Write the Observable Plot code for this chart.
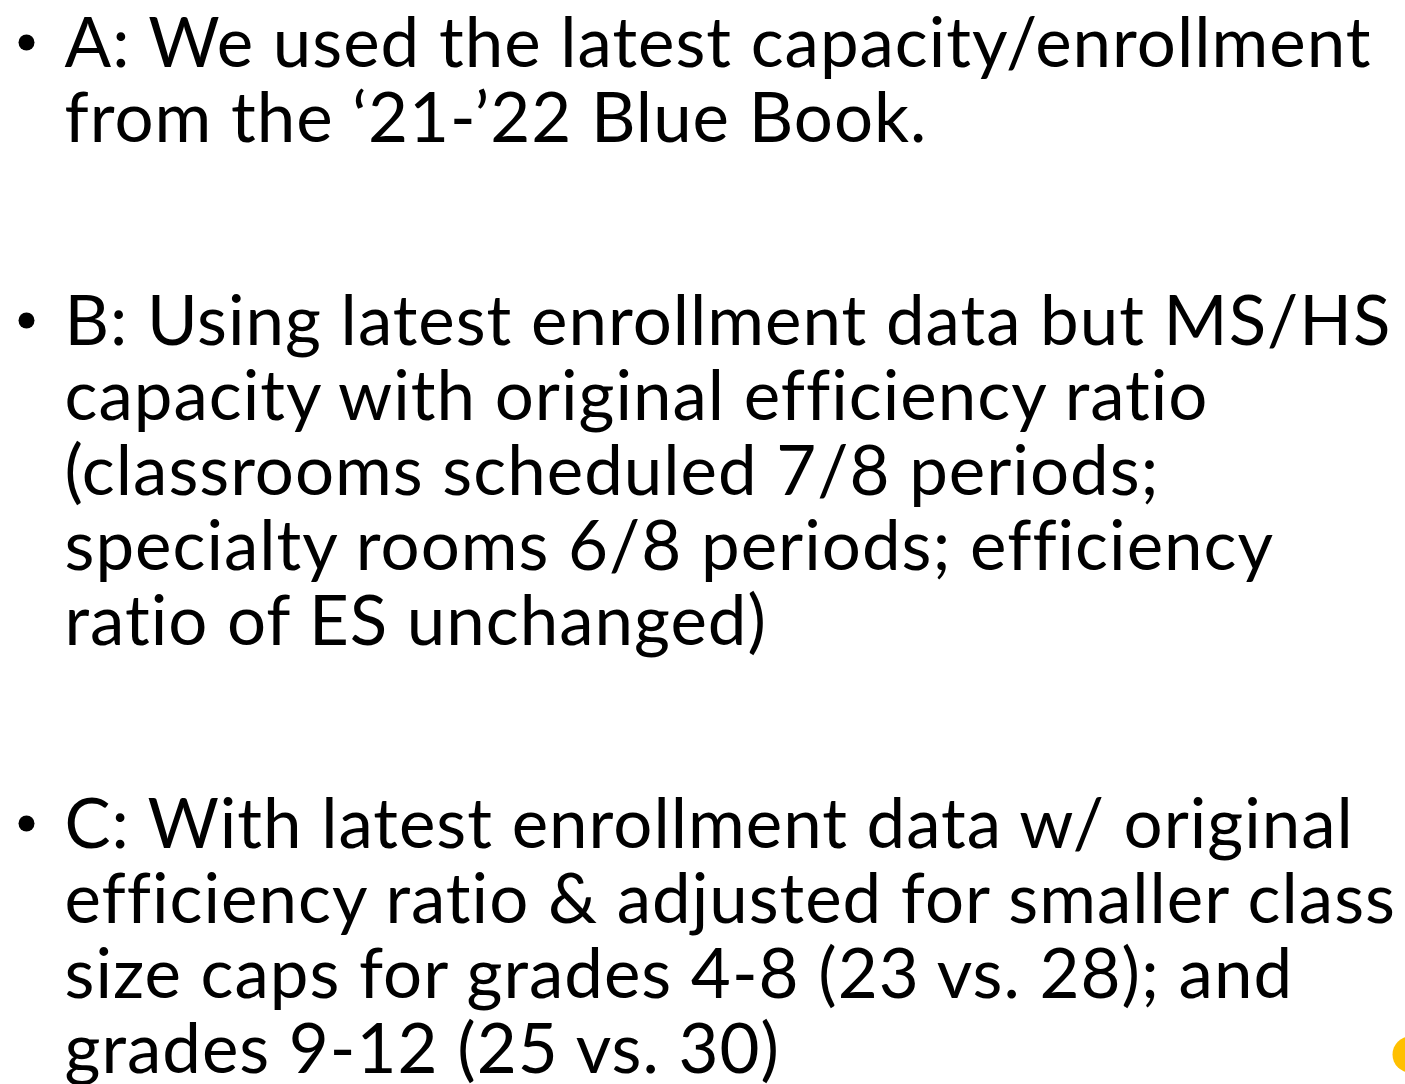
<!DOCTYPE html>
<html><head><meta charset="utf-8">
<script src="https://cdn.jsdelivr.net/npm/d3@7"></script>
<script src="https://cdn.jsdelivr.net/npm/@observablehq/plot@0.6"></script>
<style>body{margin:0;background:#fff}</style>
</head><body><div id="c"></div>
<script>
const paragraphs = ["A", "B", "C"];
const paragraphLines = [
  ["A: We used the latest capacity/enrollment", "from the \u201821-\u201922 Blue Book."],
  ["B: Using latest enrollment data but MS/HS", "capacity with original efficiency ratio", "(classrooms scheduled 7/8 periods;", "specialty rooms 6/8 periods; efficiency", "ratio of ES unchanged)"],
  ["C: With latest enrollment data w/ original", "efficiency ratio & adjusted for smaller class", "size caps for grades 4-8 (23 vs. 28); and", "grades 9-12 (25 vs. 30)"]
];
const paraStart = [44, 322, 825];
const lineStep = 75;

const rows = [];
paragraphLines.forEach((ls, p) => ls.forEach((t, i) => rows.push({p, i, text: t, y: paraStart[p] + i * lineStep})));
const bullets = paragraphs.map((k, p) => ({p, y: paraStart[p]}));

const font = "Lato, 'Noto Sans', sans-serif";
const chart = Plot.plot({
  width: 1405, height: 1084, margin: 0,
  x: {domain: [0, 1405], range: [0, 1405], axis: null},
  y: {domain: [0, 1084], range: [0, 1084], axis: null},
  style: {fontFamily: font, background: "#fff"},
  marks: [
    Plot.dot(bullets, {x: () => 26, y: d => d.y - 2, r: 8, fill: "#000", stroke: null}),
    Plot.text(rows, {x: () => 64, y: "y", text: "text", textAnchor: "start", lineAnchor: "middle", fontSize: 69, fill: "#000", fontFamily: font}),
    Plot.dot([{x: 1410, y: 1054}], {x: "x", y: "y", r: 18, fill: "#FFC000", stroke: null})
  ]
});
chart.querySelectorAll("text").forEach(t => t.style.letterSpacing = "1px");
document.getElementById("c").appendChild(chart);
</script></body></html>
